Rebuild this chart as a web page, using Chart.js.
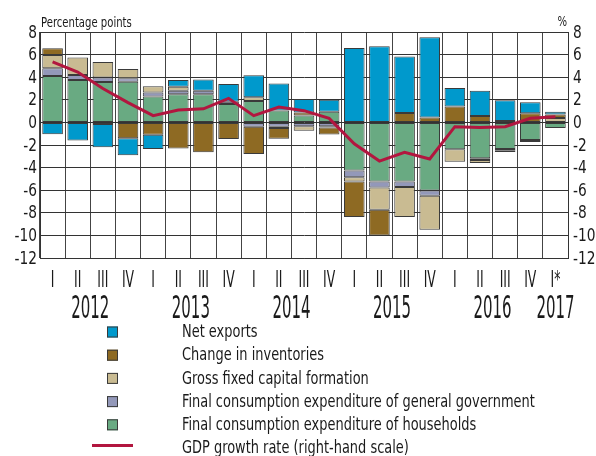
<!DOCTYPE html>
<html>
<head>
<meta charset="utf-8">
<script src="https://cdn.jsdelivr.net/npm/chart.js@4.4.1/dist/chart.umd.min.js"></script>
<style>
  html, body { margin: 0; padding: 0; background: #fff; }
  canvas { display: block; }
</style>
</head>
<body>
<canvas id="chart" width="596" height="456"></canvas>
<script>
const quarters = ['I', 'II', 'III', 'IV', 'I', 'II', 'III', 'IV', 'I', 'II', 'III', 'IV',
  'I', 'II', 'III', 'IV', 'I', 'II', 'III', 'IV', 'I*'];
const years = ['2012', '2013', '2014', '2015', '2016', '2017'];

// contributions, percentage points
const households = [4.1, 3.75, 3.57, 3.6, 2.3, 2.5, 2.5, 1.63, 1.9, 1.05, 0.6, 0.95,
  -4.25, -5.22, -5.22, -6.02, -2.38, -3.18, -2.36, -1.56, -0.5];
const government = [0.7, 0.45, 0.4, 0.3, 0.35, 0.3, 0.3, 0.2, -0.38, -0.38, -0.35, -0.35,
  -0.6, -0.53, -0.5, -0.47, 0, -0.15, -0.15, -0.18, 0];
const capitalFormation = [1.17, 1.55, 1.37, 0.82, 0.55, 0.35, 0, 0, 0.33, -0.12, -0.38, -0.1,
  -0.38, -1.98, -2.66, -3.0, -1.1, -0.27, -0.1, 0, 0.4];
const inventories = [0.6, 0, -0.15, -1.4, -1.1, -2.3, -2.65, -1.47, -2.42, -0.95, 0.28, -0.62,
  -3.15, -2.27, 0.83, 0.44, 1.4, 0.56, 0.12, 0.8, 0.3];
const netExports = [-1.05, -1.6, -2.05, -1.5, -1.25, 0.6, 1.0, 1.57, 1.95, 2.4, 1.2, 1.05,
  6.58, 6.73, 5.0, 7.1, 1.65, 2.25, 1.85, 0.98, 0.25];
const gdpGrowth = [5.35, 4.45, 3.0, 1.75, 0.6, 1.1, 1.2, 2.13, 0.6, 1.36, 1.04, 0.36,
  -1.89, -3.42, -2.65, -3.24, -0.38, -0.46, -0.38, 0.36, 0.5];

const FONT = "'Liberation Sans Narrow', 'DejaVu Sans Condensed', 'Arial Narrow', sans-serif";
const TEXT = '#1a1a1a';

function bar(label, data, color) {
  return {
    type: 'bar',
    label: label,
    data: data,
    backgroundColor: color,
    borderColor: '#3a3a3a',
    borderWidth: 1,
    borderSkipped: false,
    barPercentage: 0.82,
    categoryPercentage: 1.0,
    order: 1
  };
}

// narrow text: squeeze horizontally since no condensed face matches
function squeezed(ctx, text, x, y, sx) {
  ctx.save();
  ctx.translate(x, y);
  ctx.scale(sx, 1);
  ctx.fillText(text, 0, 0);
  ctx.restore();
}

// titles, axis labels and the legend are painted here
const decorations = {
  id: 'decorations',
  afterDraw(chart) {
    const ctx = chart.ctx;
    const xs = chart.scales.x;
    const area = chart.chartArea;
    ctx.save();
    ctx.fillStyle = TEXT;

    ctx.font = '14px ' + FONT;
    ctx.textBaseline = 'alphabetic';
    ctx.textAlign = 'left';
    squeezed(ctx, 'Percentage points', area.left + 1, 27, 0.8);
    ctx.textAlign = 'right';
    squeezed(ctx, '%', area.right - 1, 26, 0.8);

    // value axes
    ctx.font = '18px ' + FONT;
    ctx.textBaseline = 'middle';
    ['y', 'y2'].forEach(id => {
      const s = chart.scales[id];
      ctx.textAlign = id === 'y' ? 'right' : 'left';
      const x = id === 'y' ? area.left - 3 : area.right + 5;
      s.ticks.forEach(t => {
        squeezed(ctx, String(t.value), x, s.getPixelForValue(t.value) + 1, 0.85);
      });
    });

    // quarter numerals
    ctx.font = '23px ' + FONT;
    ctx.textAlign = 'center';
    ctx.textBaseline = 'alphabetic';
    quarters.forEach((q, i) => {
      squeezed(ctx, q, xs.getPixelForValue(i), area.bottom + 29, 0.6);
    });

    // years, centred under their quarters
    const groups = [];
    quarters.forEach((q, i) => {
      if (q === 'I' || q === 'I*') groups.push([i, i]);
      else groups[groups.length - 1][1] = i;
    });
    ctx.font = '32px ' + FONT;
    groups.forEach((g, k) => {
      const x = (xs.getPixelForValue(g[0]) + xs.getPixelForValue(g[1])) / 2;
      squeezed(ctx, years[k], x, area.bottom + 60, 0.52);
    });

    // legend
    const sets = chart.data.datasets;
    const items = sets.filter(d => d.type !== 'line').reverse()
      .concat(sets.filter(d => d.type === 'line'));
    ctx.font = '18px ' + FONT;
    ctx.textAlign = 'left';
    ctx.textBaseline = 'middle';
    items.forEach((d, i) => {
      const y = 331.5 + i * 23.2;
      if (d.type === 'line') {
        ctx.strokeStyle = d.borderColor;
        ctx.lineWidth = 3;
        ctx.beginPath();
        ctx.moveTo(92, y - 2);
        ctx.lineTo(133, y - 2);
        ctx.stroke();
      } else {
        ctx.fillStyle = d.backgroundColor;
        ctx.fillRect(107, y - 5, 11, 11);
        ctx.strokeStyle = '#3a3a3a';
        ctx.lineWidth = 1;
        ctx.strokeRect(107.5, y - 4.5, 10, 10);
      }
      ctx.fillStyle = TEXT;
      squeezed(ctx, d.label, 182, y + 1, 0.8);
    });
    ctx.restore();
  }
};

new Chart(document.getElementById('chart'), {
  data: {
    labels: quarters,
    datasets: [
      {
        type: 'line',
        label: 'GDP growth rate (right-hand scale)',
        data: gdpGrowth,
        yAxisID: 'y2',
        borderColor: '#b2163f',
        borderWidth: 3,
        pointRadius: 0,
        tension: 0,
        order: 0
      },
      bar('Final consumption expenditure of households', households, '#69aa82'),
      bar('Final consumption expenditure of general government', government, '#9398b9'),
      bar('Gross fixed capital formation', capitalFormation, '#c9bb92'),
      bar('Change in inventories', inventories, '#8e6a23'),
      bar('Net exports', netExports, '#0099cc')
    ]
  },
  options: {
    responsive: false,
    animation: false,
    layout: { padding: { top: 32, left: 0, right: 0, bottom: 0 } },
    plugins: {
      legend: { display: false },
      tooltip: { enabled: false }
    },
    scales: {
      x: {
        stacked: true,
        offset: true,
        grid: { color: '#444', drawTicks: false, offset: true },
        border: { color: '#333' },
        ticks: { display: false },
        afterFit: s => { s.height = 198; }
      },
      y: {
        stacked: true,
        position: 'left',
        min: -12,
        max: 8,
        ticks: { stepSize: 2, autoSkip: false, display: false },
        grid: { color: '#333', drawTicks: false },
        border: { color: '#333' },
        afterFit: s => { s.width = 40; }
      },
      y2: {
        position: 'right',
        min: -12,
        max: 8,
        ticks: { stepSize: 2, autoSkip: false, display: false },
        grid: { drawOnChartArea: false, drawTicks: false },
        border: { color: '#333' },
        afterFit: s => { s.width = 28; }
      }
    }
  },
  plugins: [decorations]
});
</script>
</body>
</html>
